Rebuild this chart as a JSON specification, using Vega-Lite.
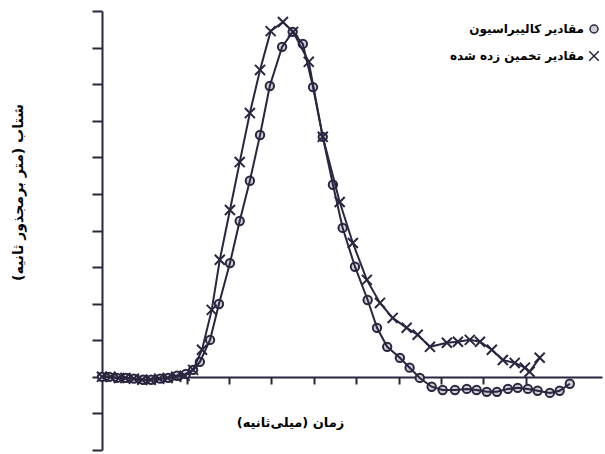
{
  "$schema": "https://vega.github.io/schema/vega-lite/v6.json",
  "width": 500,
  "height": 439,
  "autosize": "none",
  "padding": {"left": 102, "top": 11, "right": 3, "bottom": 4},
  "background": "white",
  "config": {
    "view": {"stroke": null},
    "font": "DejaVu Sans",
    "axis": {
      "grid": false,
      "labels": false,
      "domainColor": "#2b2540",
      "domainWidth": 2,
      "tickColor": "#2b2540",
      "tickWidth": 2,
      "titleFont": "DejaVu Sans",
      "titleFontWeight": "bold",
      "titleFontSize": 13,
      "titleColor": "black"
    }
  },
  "datasets": {
    "pts": [
      {"s": "مقادیر کالیبراسیون", "t": 0.0, "v": 0.0},
      {"s": "مقادیر کالیبراسیون", "t": 0.17, "v": 0.0},
      {"s": "مقادیر کالیبراسیون", "t": 0.35, "v": -0.03},
      {"s": "مقادیر کالیبراسیون", "t": 0.57, "v": -0.03},
      {"s": "مقادیر کالیبراسیون", "t": 0.75, "v": -0.05},
      {"s": "مقادیر کالیبراسیون", "t": 0.97, "v": -0.08},
      {"s": "مقادیر کالیبراسیون", "t": 1.16, "v": -0.08},
      {"s": "مقادیر کالیبراسیون", "t": 1.37, "v": -0.05},
      {"s": "مقادیر کالیبراسیون", "t": 1.56, "v": -0.03},
      {"s": "مقادیر کالیبراسیون", "t": 1.77, "v": 0.03},
      {"s": "مقادیر کالیبراسیون", "t": 1.98, "v": 0.08},
      {"s": "مقادیر کالیبراسیون", "t": 2.15, "v": 0.19},
      {"s": "مقادیر کالیبراسیون", "t": 2.31, "v": 0.41},
      {"s": "مقادیر کالیبراسیون", "t": 2.55, "v": 1.01},
      {"s": "مقادیر کالیبراسیون", "t": 2.76, "v": 1.99},
      {"s": "مقادیر کالیبراسیون", "t": 3.02, "v": 3.11},
      {"s": "مقادیر کالیبراسیون", "t": 3.25, "v": 4.26},
      {"s": "مقادیر کالیبراسیون", "t": 3.49, "v": 5.36},
      {"s": "مقادیر کالیبراسیون", "t": 3.73, "v": 6.61},
      {"s": "مقادیر کالیبراسیون", "t": 3.96, "v": 7.95},
      {"s": "مقادیر کالیبراسیون", "t": 4.25, "v": 9.02},
      {"s": "مقادیر کالیبراسیون", "t": 4.5, "v": 9.43},
      {"s": "مقادیر کالیبراسیون", "t": 4.74, "v": 9.1},
      {"s": "مقادیر کالیبراسیون", "t": 4.98, "v": 7.92},
      {"s": "مقادیر کالیبراسیون", "t": 5.21, "v": 6.56},
      {"s": "مقادیر کالیبراسیون", "t": 5.45, "v": 5.25},
      {"s": "مقادیر کالیبراسیون", "t": 5.68, "v": 4.07},
      {"s": "مقادیر کالیبراسیون", "t": 5.97, "v": 3.01},
      {"s": "مقادیر کالیبراسیون", "t": 6.27, "v": 2.1},
      {"s": "مقادیر کالیبراسیون", "t": 6.49, "v": 1.34},
      {"s": "مقادیر کالیبراسیون", "t": 6.73, "v": 0.82},
      {"s": "مقادیر کالیبراسیون", "t": 7.03, "v": 0.52},
      {"s": "مقادیر کالیبراسیون", "t": 7.26, "v": 0.25},
      {"s": "مقادیر کالیبراسیون", "t": 7.5, "v": -0.03},
      {"s": "مقادیر کالیبراسیون", "t": 7.78, "v": -0.27},
      {"s": "مقادیر کالیبراسیون", "t": 8.04, "v": -0.36},
      {"s": "مقادیر کالیبراسیون", "t": 8.33, "v": -0.36},
      {"s": "مقادیر کالیبراسیون", "t": 8.61, "v": -0.33},
      {"s": "مقادیر کالیبراسیون", "t": 8.84, "v": -0.36},
      {"s": "مقادیر کالیبراسیون", "t": 9.08, "v": -0.41},
      {"s": "مقادیر کالیبراسیون", "t": 9.32, "v": -0.41},
      {"s": "مقادیر کالیبراسیون", "t": 9.58, "v": -0.33},
      {"s": "مقادیر کالیبراسیون", "t": 9.81, "v": -0.3},
      {"s": "مقادیر کالیبراسیون", "t": 10.05, "v": -0.33},
      {"s": "مقادیر کالیبراسیون", "t": 10.28, "v": -0.38},
      {"s": "مقادیر کالیبراسیون", "t": 10.57, "v": -0.44},
      {"s": "مقادیر کالیبراسیون", "t": 10.8, "v": -0.38},
      {"s": "مقادیر کالیبراسیون", "t": 11.04, "v": -0.19},
      {"s": "مقادیر تخمین زده شده", "t": 0.0, "v": 0.0},
      {"s": "مقادیر تخمین زده شده", "t": 0.2, "v": 0.0},
      {"s": "مقادیر تخمین زده شده", "t": 0.4, "v": -0.03},
      {"s": "مقادیر تخمین زده شده", "t": 0.55, "v": -0.03},
      {"s": "مقادیر تخمین زده شده", "t": 0.75, "v": -0.05},
      {"s": "مقادیر تخمین زده شده", "t": 0.95, "v": -0.08},
      {"s": "مقادیر تخمین زده شده", "t": 1.15, "v": -0.08},
      {"s": "مقادیر تخمین زده شده", "t": 1.35, "v": -0.05},
      {"s": "مقادیر تخمین زده شده", "t": 1.55, "v": -0.03},
      {"s": "مقادیر تخمین زده شده", "t": 1.75, "v": 0.0},
      {"s": "مقادیر تخمین زده شده", "t": 1.95, "v": 0.03},
      {"s": "مقادیر تخمین زده شده", "t": 2.15, "v": 0.19},
      {"s": "مقادیر تخمین زده شده", "t": 2.36, "v": 0.74},
      {"s": "مقادیر تخمین زده شده", "t": 2.59, "v": 1.83},
      {"s": "مقادیر تخمین زده شده", "t": 2.78, "v": 3.2},
      {"s": "مقادیر تخمین زده شده", "t": 3.02, "v": 4.56},
      {"s": "مقادیر تخمین زده شده", "t": 3.25, "v": 5.87},
      {"s": "مقادیر تخمین زده شده", "t": 3.49, "v": 7.21},
      {"s": "مقادیر تخمین زده شده", "t": 3.73, "v": 8.39},
      {"s": "مقادیر تخمین زده شده", "t": 3.98, "v": 9.45},
      {"s": "مقادیر تخمین زده شده", "t": 4.27, "v": 9.7},
      {"s": "مقادیر تخمین زده شده", "t": 4.51, "v": 9.43},
      {"s": "مقادیر تخمین زده شده", "t": 4.88, "v": 8.61},
      {"s": "مقادیر تخمین زده شده", "t": 5.21, "v": 6.56},
      {"s": "مقادیر تخمین زده شده", "t": 5.61, "v": 4.78},
      {"s": "مقادیر تخمین زده شده", "t": 5.92, "v": 3.66},
      {"s": "مقادیر تخمین زده شده", "t": 6.25, "v": 2.65},
      {"s": "مقادیر تخمین زده شده", "t": 6.56, "v": 2.02},
      {"s": "مقادیر تخمین زده شده", "t": 6.86, "v": 1.61},
      {"s": "مقادیر تخمین زده شده", "t": 7.19, "v": 1.34},
      {"s": "مقادیر تخمین زده شده", "t": 7.45, "v": 1.15},
      {"s": "مقادیر تخمین زده شده", "t": 7.74, "v": 0.82},
      {"s": "مقادیر تخمین زده شده", "t": 8.14, "v": 0.93},
      {"s": "مقادیر تخمین زده شده", "t": 8.4, "v": 0.96},
      {"s": "مقادیر تخمین زده شده", "t": 8.68, "v": 1.01},
      {"s": "مقادیر تخمین زده شده", "t": 8.92, "v": 0.96},
      {"s": "مقادیر تخمین زده شده", "t": 9.2, "v": 0.74},
      {"s": "مقادیر تخمین زده شده", "t": 9.46, "v": 0.46},
      {"s": "مقادیر تخمین زده شده", "t": 9.74, "v": 0.38},
      {"s": "مقادیر تخمین زده شده", "t": 9.98, "v": 0.25},
      {"s": "مقادیر تخمین زده شده", "t": 10.09, "v": 0.14},
      {"s": "مقادیر تخمین زده شده", "t": 10.33, "v": 0.52}
    ]
  },
  "data": {"name": "pts"},
  "encoding": {
    "x": {
      "field": "t",
      "type": "quantitative",
      "scale": {"domain": [0, 11.8], "nice": false, "zero": false},
      "axis": {
        "title": "زمان (میلی‌ثانیه)‏",
        "offset": -73,
        "values": [1, 2, 3, 4, 5, 6, 7, 8, 9, 10],
        "tickSize": 7,
        "titleX": 188,
        "titleY": 45,
        "titleAlign": "center",
        "titleBaseline": "middle"
      }
    },
    "y": {
      "field": "v",
      "type": "quantitative",
      "scale": {"domain": [-2, 10], "nice": false},
      "axis": {
        "title": "شتاب (متر برمجذور ثانیه)‏",
        "values": [-2, -1, 0, 1, 2, 3, 4, 5, 6, 7, 8, 9, 10],
        "tickSize": 10,
        "titleX": -84,
        "titleY": 181,
        "titleAngle": -90,
        "titleAlign": "center",
        "titleBaseline": "middle",
        "titleFontSize": 14
      }
    }
  },
  "layer": [
    {
      "mark": {
        "type": "point",
        "filled": true,
        "fill": "#cfcfd4",
        "stroke": "#2b2540",
        "strokeWidth": 2,
        "size": 70,
        "opacity": 1
      },
      "encoding": {
        "shape": {
          "field": "s",
          "type": "nominal",
          "scale": {
            "domain": ["مقادیر کالیبراسیون", "مقادیر تخمین زده شده"],
            "range": ["circle", "M-1.2,-1.2L1.2,1.2M-1.2,1.2L1.2,-1.2"]
          },
          "legend": {
            "orient": "none",
            "legendX": 486,
            "legendY": 12,
            "title": null,
            "labelAlign": "right",
            "labelOffset": -16,
            "labelFont": "DejaVu Sans",
            "labelFontWeight": "bold",
            "labelFontSize": 12,
            "labelColor": "black",
            "labelLimit": 0,
            "rowPadding": 12,
            "symbolSize": 64,
            "encode": {
              "symbols": {
                "update": {
                  "fill": {"value": "#cfcfd4"},
                  "stroke": {"value": "#2b2540"},
                  "strokeWidth": {"value": 2.2},
                  "opacity": {"value": 1}
                }
              }
            }
          }
        }
      }
    },
    {
      "mark": {"type": "line", "stroke": "#2b2540", "strokeWidth": 2},
      "encoding": {
        "detail": {"field": "s", "type": "nominal"},
        "order": {"field": "t", "type": "quantitative"}
      }
    }
  ]
}
